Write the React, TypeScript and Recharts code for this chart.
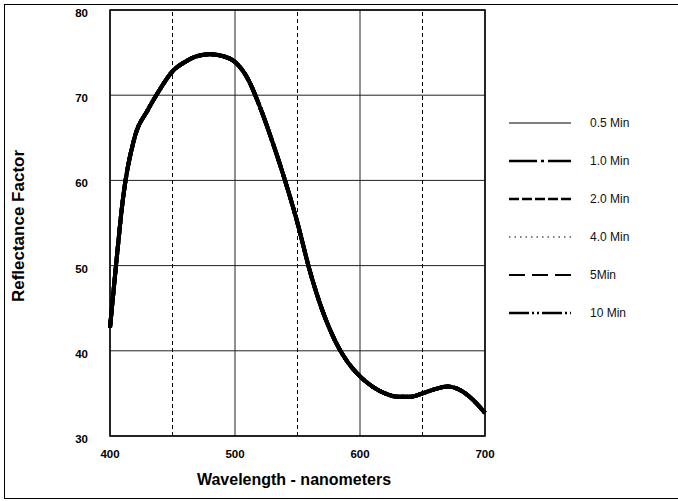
import React from 'react';
import {
  CartesianGrid,
  Line,
  LineChart,
  ReferenceArea,
  ReferenceLine,
  XAxis,
  YAxis,
} from 'recharts';

// wavelength (nm) and reflectance; every series sits on the same curve
const wavelengths = [
  400, 405, 410, 420, 430, 440, 450, 460, 470, 480, 490, 500, 510, 520, 530, 540, 550, 560, 570,
  580, 590, 600, 610, 620, 630, 640, 650, 660, 670, 680, 690, 700,
];
const reflectance = [
  42.7, 50.3, 57.4, 65.2, 68.2, 70.7, 72.8, 73.9, 74.6, 74.8, 74.6, 73.9, 72.0, 68.6, 64.5, 60.0,
  55.0, 49.3, 44.7, 41.2, 38.7, 37.0, 35.8, 35.0, 34.6, 34.6, 35.0, 35.5, 35.8, 35.4, 34.3, 32.7,
];
const seriesNames = ['0.5 Min', '1.0 Min', '2.0 Min', '4.0 Min', '5Min', '10 Min'];
const xTicks = [400, 500, 600, 700];
const yTicks = [30, 40, 50, 60, 70, 80];
const dashedX = [450, 550, 650];

const dashes = ['', '28 4 3 4', '10 3', '1.5 4', '16 7', '20 3 2 3 2 3'];
const legendWidths = [1, 2.5, 2.5, 1.2, 2, 2.5];

const data = wavelengths.map((w, i) => ({ w, r: reflectance[i] }));

const font = 'Liberation Sans, Arial, sans-serif';

const LegendBox = () => (
  <div
    style={{
      position: 'absolute',
      left: 508,
      top: 104,
      width: 170,
      fontFamily: font,
      fontSize: 12,
      color: '#111',
    }}
  >
    {seriesNames.map((name, i) => (
      <div key={name} style={{ height: 38, display: 'flex', alignItems: 'center' }}>
        <svg width={64} height={6} style={{ marginRight: 18 }}>
          <line
            x1={1}
            y1={3}
            x2={63}
            y2={3}
            stroke="#000"
            strokeWidth={legendWidths[i]}
            strokeDasharray={dashes[i] || undefined}
          />
        </svg>
        <span>{name}</span>
      </div>
    ))}
  </div>
);

const App: React.FC = () => (
  <div style={{ position: 'absolute', left: 0, top: 0, width: 678, height: 501, background: '#fff' }}>
    <div
      style={{
        position: 'absolute',
        left: 4,
        top: 4,
        width: 690,
        height: 493,
        border: '1.5px solid #000',
      }}
    />
    <LineChart
      width={678}
      height={501}
      data={data}
      margin={{ top: 10, right: 193, bottom: 35, left: 0 }}
      style={{ position: 'absolute', left: 0, top: 0 }}
    >
      <CartesianGrid stroke="#222" strokeWidth={1} />
      <XAxis
        dataKey="w"
        type="number"
        domain={[400, 700]}
        ticks={xTicks}
        height={30}
        axisLine={false}
        tickLine={false}
        tickMargin={8}
        tick={{ fontFamily: font, fontSize: 11.5, fontWeight: 'bold', fill: '#000' }}
      />
      <YAxis
        type="number"
        domain={[30, 80]}
        ticks={yTicks}
        width={110}
        axisLine={false}
        tickLine={false}
        tickMargin={16}
        tick={{ fontFamily: font, fontSize: 11.5, fontWeight: 'bold', fill: '#000', dy: 3 }}
      />
      {dashedX.map((x) => (
        <ReferenceLine key={x} x={x} stroke="#000" strokeWidth={1} strokeDasharray="4 3" />
      ))}
      <ReferenceArea x1={400} x2={700} y1={30} y2={80} fill="none" stroke="#000" strokeWidth={1.5} />
      {seriesNames.map((name, i) => (
        <Line
          key={name}
          name={name}
          dataKey="r"
          type="monotone"
          stroke="#000"
          strokeWidth={4}
          strokeDasharray={dashes[i] || undefined}
          dot={false}
          isAnimationActive={false}
        />
      ))}
      <text
        x={20}
        y={226}
        transform="rotate(-90 20 226)"
        textAnchor="middle"
        dominantBaseline="middle"
        fontFamily={font}
        fontSize={17}
        fontWeight="bold"
      >
        Reflectance Factor
      </text>
      <text
        x={294}
        y={481}
        textAnchor="middle"
        dominantBaseline="middle"
        fontFamily={font}
        fontSize={16}
        fontWeight="bold"
      >
        Wavelength - nanometers
      </text>
    </LineChart>
    <LegendBox />
  </div>
);

export default App;
